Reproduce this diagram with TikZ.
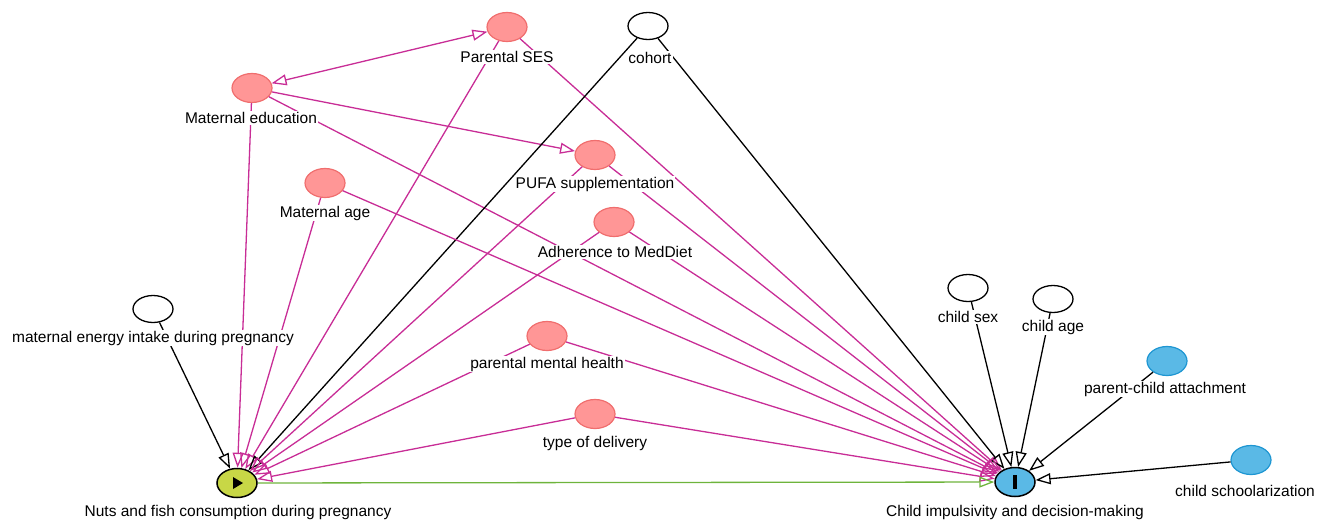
\documentclass[tikz,border=0pt]{standalone}
\usepackage{fontspec}
\setmainfont{Liberation Sans}
\usetikzlibrary{arrows.meta,shapes.geometric}
\definecolor{bias}{RGB}{200,45,150}
\definecolor{causal}{RGB}{110,180,60}
\definecolor{pinkfill}{RGB}{255,150,150}
\definecolor{pinkline}{RGB}{240,110,110}
\definecolor{bluefill}{RGB}{90,185,230}
\definecolor{blueline}{RGB}{30,150,210}
\definecolor{expfill}{RGB}{200,215,70}
\tikzset{
  conf/.style={ellipse, minimum width=40pt, minimum height=29pt, inner sep=0pt, fill=pinkfill, draw=pinkline, line width=1.2pt},
  latent/.style={ellipse, minimum width=40pt, minimum height=27pt, inner sep=0pt, fill=white, draw=black, line width=1.3pt},
  outanc/.style={ellipse, minimum width=40pt, minimum height=29pt, inner sep=0pt, fill=bluefill, draw=blueline, line width=1.2pt},
  expo/.style={ellipse, minimum width=40pt, minimum height=29pt, inner sep=0pt, fill=expfill, draw=black, line width=1.5pt},
  outc/.style={ellipse, minimum width=40pt, minimum height=29pt, inner sep=0pt, fill=bluefill, draw=black, line width=1.5pt},
  lbl/.style={fill=white, inner sep=1pt, font=\fontsize{15.5}{17}\selectfont},
  tip/.style={Triangle[open,length=15pt,width=11pt]},
  biasedge/.style={draw=bias, line width=1.3pt, -{Triangle[open,length=15pt,width=11pt]}},
  biasboth/.style={draw=bias, line width=1.3pt, {Triangle[open,length=15pt,width=11pt]}-{Triangle[open,length=15pt,width=11pt]}},
  blackedge/.style={draw=black, line width=1.3pt, -{Triangle[open,length=15pt,width=11pt]}},
  causaledge/.style={draw=causal, line width=1.3pt, -{Triangle[open,length=15pt,width=11pt]}},
}
\begin{document}
\begin{tikzpicture}[x=1pt,y=-1pt]
\useasboundingbox (0,0) rectangle (1322,520);
% nodes
\node[conf] (ses) at (507,27) {};
\node[latent] (coh) at (648,26) {};
\node[conf] (med) at (252,88) {};
\node[conf] (pufa) at (595,155) {};
\node[conf] (mage) at (325,183) {};
\node[conf] (mdiet) at (614,222) {};
\node[latent] (energy) at (153,309) {};
\node[conf] (mental) at (547,336) {};
\node[conf] (deliv) at (595,414) {};
\node[expo] (nuts) at (237,483) {};
\node[outc] (child) at (1015,482) {};
\node[latent] (sex) at (968,288) {};
\node[latent] (age) at (1053,299) {};
\node[outanc] (attach) at (1167,361) {};
\node[outanc] (school) at (1251,460) {};
% symbols
\fill (nuts.center) ++(-4,-6) -- ++(10,6) -- ++(-10,6) -- cycle;
\fill (child.center) ++(-1.6,-7) rectangle ++(3.2,14);
% edges
\draw[biasboth] (med) -- (ses);
\draw[biasedge] (med) -- (pufa);
\draw[biasedge] (med) -- (nuts);
\draw[biasedge] (med) -- (child);
\draw[biasedge] (ses) -- (nuts);
\draw[biasedge] (ses) -- (child);
\draw[blackedge] (coh) -- (nuts);
\draw[blackedge] (coh) -- (child);
\draw[biasedge] (pufa) -- (nuts);
\draw[biasedge] (pufa) -- (child);
\draw[biasedge] (mage) -- (nuts);
\draw[biasedge] (mage) -- (child);
\draw[biasedge] (mdiet) -- (nuts);
\draw[biasedge] (mdiet) -- (child);
\draw[blackedge] (energy) -- (nuts);
\draw[biasedge] (mental) -- (nuts);
\draw[biasedge] (mental) -- (child);
\draw[biasedge] (deliv) -- (nuts);
\draw[biasedge] (deliv) -- (child);
\draw[causaledge] (nuts) -- (child);
\draw[blackedge] (sex) -- (child);
\draw[blackedge] (age) -- (child);
\draw[blackedge] (attach) -- (child);
\draw[blackedge] (school) -- (child);
% labels
\node[lbl] (sesl) at (507,57) {Parental SES};
\node[lbl] (cohl) at (650,58) {cohort};
\node[lbl] (medl) at (251,118) {Maternal education};
\node[lbl] (pufal) at (595,184) {PUFA supplementation};
\node[lbl] (magel) at (325,213) {Maternal age};
\node[lbl] (mdietl) at (615,252) {Adherence to MedDiet};
\node[lbl] (energyl) at (153,338) {maternal energy intake during pregnancy};
\node[lbl] (mentall) at (547,364) {parental mental health};
\node[lbl] (delivl) at (595,443) {type of delivery};
\node[lbl] (nutsl) at (238,512) {Nuts and fish consumption during pregnancy};
\node[lbl] (childl) at (1015,512) {Child impulsivity and decision-making};
\node[lbl] (sexl) at (968,317) {child sex};
\node[lbl] (agel) at (1053,327) {child age};
\node[lbl] (attachl) at (1165,389) {parent-child attachment};
\node[lbl] (schooll) at (1245,491) {child schoolarization};
\end{tikzpicture}
\end{document}
